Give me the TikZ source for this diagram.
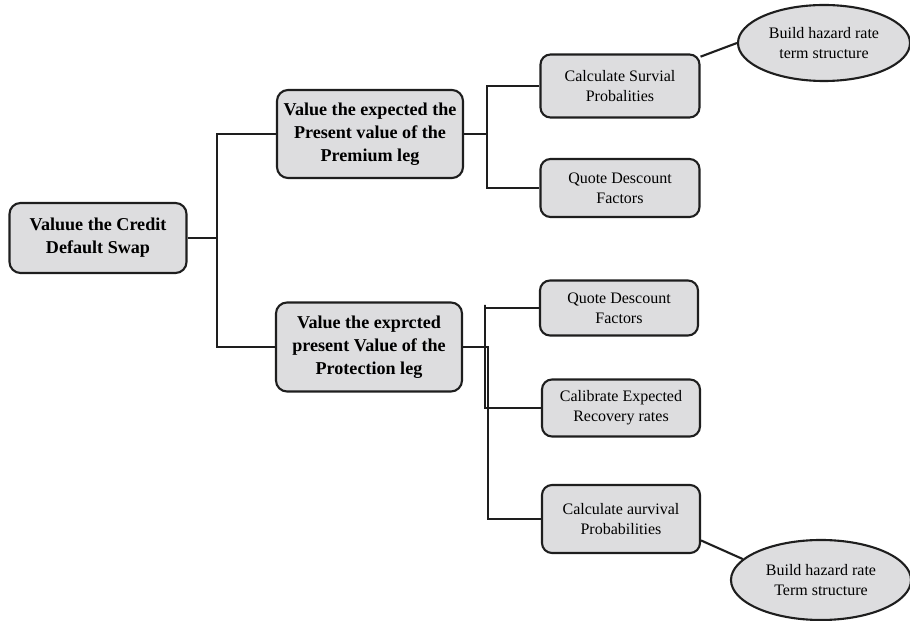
\documentclass[tikz,border=0pt]{standalone}
\usepackage{fontspec}
\setmainfont{Liberation Serif}
\usetikzlibrary{calc, positioning, shapes.geometric}

\definecolor{boxgray}{RGB}{221,221,223}
\definecolor{linegray}{RGB}{30,30,30}

\begin{document}
\begin{tikzpicture}[
    mainbox/.style={draw=linegray, line width=1.2pt, fill=boxgray, rounded corners=0.22cm, align=center, inner sep=0pt, font=\bfseries\fontsize{10.3}{13}\selectfont},
    leafbox/.style={draw=linegray, line width=1.2pt, fill=boxgray, rounded corners=0.2cm, align=center, inner sep=0pt, font=\fontsize{9.1}{11.4}\selectfont},
    hazard/.style={draw=linegray, line width=1.2pt, fill=boxgray, ellipse, inner sep=0pt, align=center, font=\fontsize{9.1}{11.4}\selectfont},
    link/.style={draw=linegray, line width=1.2pt}
]

    % Frame
    \useasboundingbox (0,0) rectangle (18.2,-12.42);

    % Root
    \node[mainbox, minimum width=3.54cm, minimum height=1.4cm] (cds) at (1.96,-4.76) {Valuue the Credit\\Default Swap};

    % Legs
    \node[mainbox, minimum width=3.72cm, minimum height=1.76cm] (prem) at (7.40,-2.68) {Value the expected the\\Present value of the\\Premium leg};
    \node[mainbox, minimum width=3.72cm, minimum height=1.78cm] (prot) at (7.38,-6.94) {Value the exprcted\\present Value of the\\Protection leg};

    % Premium leg steps
    \node[leafbox, minimum width=3.18cm, minimum height=1.26cm] (surv) at (12.40,-1.72) {Calculate Survial\\Probalities};
    \node[leafbox, minimum width=3.18cm, minimum height=1.16cm] (disc1) at (12.40,-3.76) {Quote Descount\\Factors};

    % Protection leg steps
    \node[leafbox, minimum width=3.16cm, minimum height=1.10cm] (disc2) at (12.38,-6.16) {Quote Descount\\Factors};
    \node[leafbox, minimum width=3.16cm, minimum height=1.14cm] (recov) at (12.42,-8.16) {Calibrate Expected\\Recovery rates};
    \node[leafbox, minimum width=3.16cm, minimum height=1.36cm] (aurv) at (12.42,-10.38) {Calculate aurvival\\Probabilities};

    % Hazard rates
    \node[hazard, minimum width=3.44cm, minimum height=1.52cm] (hazA) at (16.48,-0.86) {Build hazard rate\\term structure};
    \node[hazard, minimum width=3.6cm, minimum height=1.6cm] (hazB) at (16.42,-11.6) {Build hazard rate\\Term structure};

    % Junctions
    \coordinate (j0) at (4.34,-4.7);
    \coordinate (j1) at (9.74,-2.64);
    \coordinate (j2) at (9.70,-6.1);
    \coordinate (j3) at (9.76,-7.06);

    % Connectors
    \draw[link] (cds.east) -- (cds.east -| j0);
    \draw[link] (prem.west) -| (j0) |- (prot.west);
    \draw[link] (prem.east) -- (prem.east -| j1);
    \draw[link] (surv.west) -| (j1) |- (disc1.west);
    \draw[link] (disc2.west) -| (j2) |- (recov.west);
    \draw[link] (prot.east) -| (j3) |- (aurv.west);
    \draw[link] (surv.20) -- (hazA.west);
    \draw[link] (aurv.-15) -- (hazB.165);

\end{tikzpicture}
\end{document}
